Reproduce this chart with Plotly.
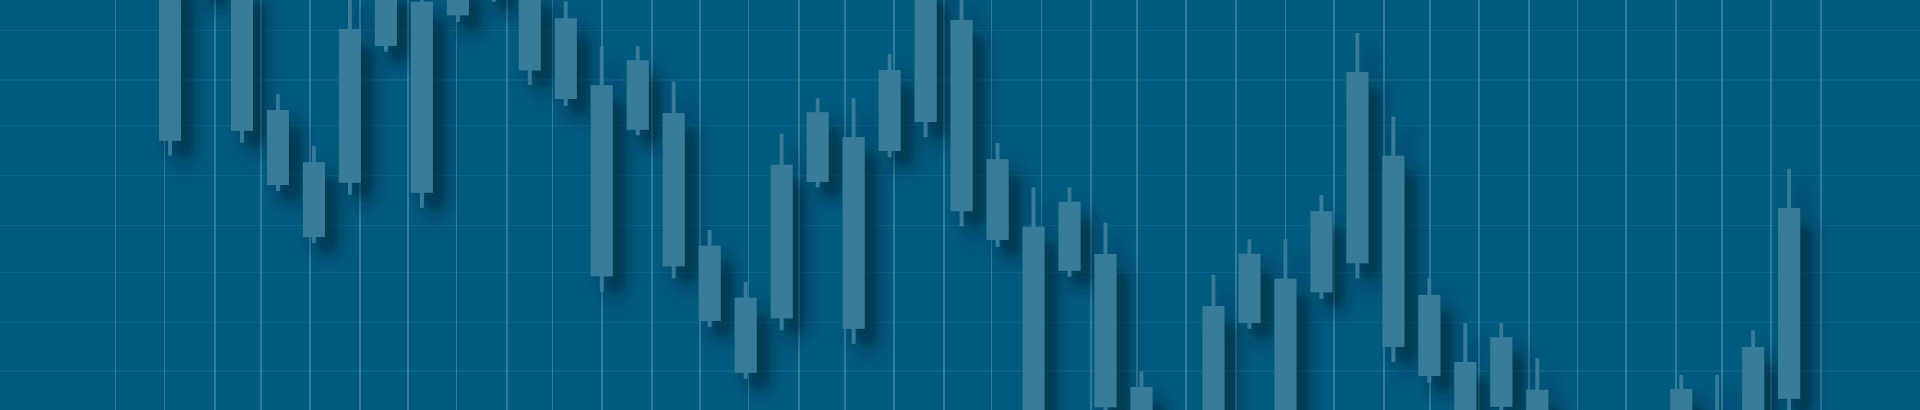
import plotly.graph_objects as go

# ---- data ----
sessions = list(range(46))
open_ = [469.3, 620, 625, 500, 447.7, 427.3, 564, 608.3, 594.7, 616,
         620, 591.7, 524.7, 480.3, 497, 364.3, 312.3, 291.7, 428, 473,
         459, 488, 590, 450.7, 383.3, 339.3, 356, 223, 165, 170,
         287, 331.3, 317.7, 346.7, 454.3, 315, 248, 203.3, 220.3, 165,
         150, 120, 170, 190, 180, 211.3]
close = [635, 680, 479.3, 425, 373, 581, 625, 417.3, 630, 650,
         539.7, 511, 333.7, 549.7, 343.7, 289, 237.3, 445.3, 497.7, 281.3,
         540, 625, 398.7, 370, 180, 408.3, 202.7, 170, 130, 304,
         356.3, 170, 398.7, 538, 263, 234, 160, 272.7, 170, 110,
         100, 170, 221, 140, 263, 402]
high = [650, 700, 640, 515.7, 463.7, 620, 640, 618, 650, 670,
        640, 608.7, 563.7, 563.7, 528.3, 380, 328, 476.3, 511.7, 511.7,
        556.3, 650, 620, 467, 422.7, 422.7, 387.3, 238.7, 180, 335,
        370.7, 370.7, 415, 577, 493.3, 331.7, 287, 287, 251.7, 180,
        170, 185, 235, 235, 279.7, 441.3]
low = [454.3, 614, 467.3, 419, 367, 415.3, 558.3, 402.3, 588, 608.3,
       525, 504.3, 318.3, 474.7, 331.7, 283.3, 231.3, 279.7, 422.7, 266.3,
       452.7, 473, 383.7, 363, 165, 333.3, 190, 160, 120, 155,
       281.3, 150, 311.3, 331.7, 248, 227.3, 145, 190, 160, 100,
       90, 110, 160, 130, 165, 190]

# grid positions (axis tick values, no labels shown)
x_grid = [-1.509, -0.147, 1.251, 2.529, 3.891, 5.281, 6.615, 7.968, 9.366,
          10.636, 12.007, 13.396, 14.730, 16.084, 17.482, 18.760, 20.122,
          21.512, 22.838, 24.216, 25.598, 26.876, 28.238, 29.628, 30.998,
          32.351, 33.741, 35.020, 36.381, 37.771, 39.113, 40.467, 41.857,
          43.135, 44.497, 45.887]
y_grid = [579.3, 530, 484.3, 434.3, 384.3, 337.3, 287.3, 239]

BG = "#015a80"
CANDLE = "#387c9a"

body_base = [min(o, c) for o, c in zip(open_, close)]
body_len = [abs(c - o) for o, c in zip(open_, close)]
wick_len = [h - l for h, l in zip(high, low)]

fig = go.Figure()
fig.add_trace(go.Bar(x=sessions, base=low, y=wick_len, width=0.105,
                     marker=dict(color=CANDLE, line=dict(width=0)),
                     hoverinfo="skip", showlegend=False))
fig.add_trace(go.Bar(x=sessions, base=body_base, y=body_len, width=0.612,
                     marker=dict(color=CANDLE, line=dict(width=0)),
                     hoverinfo="skip", showlegend=False))

fig.update_layout(
    width=1920, height=410,
    margin=dict(l=0, r=0, t=0, b=0, pad=0),
    paper_bgcolor=BG, plot_bgcolor=BG,
    barmode="overlay", showlegend=False,
    xaxis=dict(range=[-4.725, 48.638], tickmode="array", tickvals=x_grid,
               showticklabels=False, ticks="", showgrid=True,
               gridcolor="rgba(95,160,192,0.5)", gridwidth=1.5,
               zeroline=False, showline=False, fixedrange=True),
    yaxis=dict(range=[200, 610], tickmode="array", tickvals=y_grid,
               showticklabels=False, ticks="", showgrid=True,
               gridcolor="rgba(95,160,192,0.14)", gridwidth=1.5,
               zeroline=False, showline=False, fixedrange=True),
)

post = """
document.body.style.margin='0';
document.body.style.overflow='hidden';
var gd = document.getElementById('{plot_id}');
function applyShadow(){
  var svg = gd.querySelector('svg.main-svg');
  if(!svg) return;
  var ns = 'http://www.w3.org/2000/svg';
  if(!document.getElementById('candleShadow')){
    var defs = svg.querySelector('defs');
    if(!defs){ defs = document.createElementNS(ns,'defs'); svg.insertBefore(defs, svg.firstChild); }
    var f = document.createElementNS(ns,'filter');
    f.setAttribute('id','candleShadow');
    f.setAttribute('filterUnits','userSpaceOnUse');
    f.setAttribute('x','-200'); f.setAttribute('y','-600');
    f.setAttribute('width','2400'); f.setAttribute('height','1600');
    var ds = document.createElementNS(ns,'feDropShadow');
    ds.setAttribute('dx','13'); ds.setAttribute('dy','16');
    ds.setAttribute('stdDeviation','8');
    ds.setAttribute('flood-color','#001a2e');
    ds.setAttribute('flood-opacity','0.62');
    f.appendChild(ds); defs.appendChild(f);
  }
  gd.querySelectorAll('.barlayer').forEach(function(g){ g.setAttribute('filter','url(#candleShadow)'); });
}
applyShadow();
if(gd.on){ gd.on('plotly_afterplot', applyShadow); }
"""

fig.write_html("out.html", config={"displayModeBar": False, "staticPlot": True},
               post_script=post)
